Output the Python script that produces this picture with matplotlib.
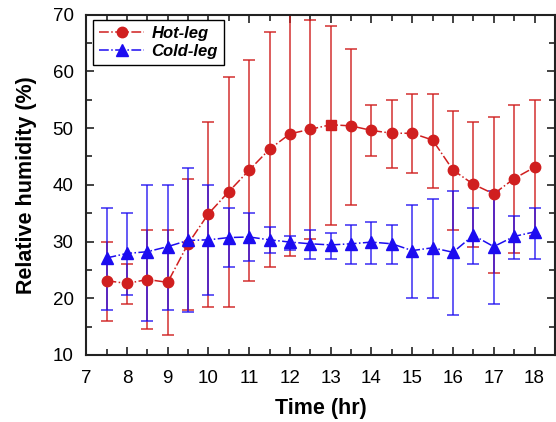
import matplotlib
matplotlib.use('Agg')
import matplotlib.pyplot as plt
from matplotlib.ticker import MultipleLocator

plt.rcParams['font.family'] = ['Liberation Sans', 'DejaVu Sans']

# time points (hr)
time = [7.5, 8, 8.5, 9, 9.5, 10, 10.5, 11, 11.5, 12, 12.5,
        13, 13.5, 14, 14.5, 15, 15.5, 16, 16.5, 17, 17.5, 18]

# hot-leg relative humidity (%) with error bar ends
hot_mean = [23.1, 22.6, 23.3, 22.8, 29.6, 34.9, 38.8, 42.6, 46.3, 49.0, 49.8,
            50.6, 50.4, 49.6, 49.1, 49.1, 47.9, 42.6, 40.1, 38.4, 41.1, 43.1]
hot_upper = [30, 26, 32, 32, 41, 51, 59, 62, 67, 70, 69,
             68, 64, 54, 55, 56, 56, 53, 51, 52, 54, 55]
hot_lower = [16, 19, 14.5, 13.5, 18, 18.5, 18.5, 23, 25.5, 27.5, 30.5,
             33, 36.5, 45, 43, 42, 39.5, 32, 29, 24.5, 28, 31]

# cold-leg relative humidity (%) with error bar ends
cold_mean = [27.1, 27.9, 28.2, 29.1, 30.2, 30.3, 30.7, 30.8, 30.3, 29.9, 29.6,
             29.4, 29.6, 29.9, 29.6, 28.4, 28.9, 28.1, 31.1, 29.1, 30.9, 31.7]
cold_upper = [36, 35, 40, 40, 43, 40, 36, 35, 32.5, 31, 32,
              31.5, 33, 33.5, 33, 36.5, 37.5, 39, 36, 39, 34.5, 36]
cold_lower = [18, 20.5, 16, 18, 17.5, 20.5, 25.5, 26.5, 28, 28.5, 27,
              27, 26, 26, 26, 20, 20, 17, 26, 19, 27, 27]

hot_color = '#d01f1f'
cold_color = '#1c0cf0'


def err(mean, upper, lower):
    return [[m - l for m, l in zip(mean, lower)],
            [u - m for m, u in zip(mean, upper)]]


fig = plt.figure(figsize=(5.56, 4.22), dpi=100)
ax = fig.add_axes([0.155, 0.159, 0.843, 0.806])

ax.errorbar(time, hot_mean, yerr=err(hot_mean, hot_upper, hot_lower),
            fmt='none', ecolor=hot_color, elinewidth=1.2, capsize=4,
            capthick=1.2, alpha=0.85, zorder=2)
ax.errorbar(time, cold_mean, yerr=err(cold_mean, cold_upper, cold_lower),
            fmt='none', ecolor=cold_color, elinewidth=1.2, capsize=4,
            capthick=1.2, alpha=0.8, zorder=2)

# one hot-leg point at 13 hr is drawn as a square in the original
sq = time.index(13)
circ = [i for i in range(len(time)) if i != sq]
ax.plot(time, hot_mean, color=hot_color, linestyle='-.', linewidth=1.1,
        marker='o', markersize=7.5, markevery=circ, label='Hot-leg', zorder=3)
ax.plot([time[sq]], [hot_mean[sq]], color=hot_color, linestyle='none',
        marker='s', markersize=6.5, zorder=3)
ax.plot(time, cold_mean, color=cold_color, linestyle='-.', linewidth=1.1,
        marker='^', markersize=8.5, label='Cold-leg', zorder=4)

ax.set_xlim(7, 18.5)
ax.set_ylim(10, 70)
ax.xaxis.set_major_locator(MultipleLocator(1))
ax.xaxis.set_minor_locator(MultipleLocator(0.5))
ax.yaxis.set_major_locator(MultipleLocator(10))
ax.yaxis.set_minor_locator(MultipleLocator(5))
ax.tick_params(which='both', direction='in', top=True, right=True,
               labelsize=13.5, width=1.2, color='#222222')
ax.tick_params(which='major', length=6)
ax.tick_params(which='minor', length=4)
ax.tick_params(axis='x', pad=11)
ax.tick_params(axis='y', pad=9)
for s in ax.spines.values():
    s.set_linewidth(1.5)
    s.set_color('#222222')

ax.set_xlabel('Time (hr)', fontsize=15.5, fontweight='bold', labelpad=8)
ax.set_ylabel('Relative humidity (%)', fontsize=15.5, fontweight='bold', labelpad=11)

leg = ax.legend(loc='upper left', bbox_to_anchor=(0.015, 0.985), fancybox=False,
                edgecolor='black', framealpha=1, handlelength=2.7,
                handletextpad=0.45, labelspacing=0.2, borderpad=0.35,
                borderaxespad=0.0,
                prop={'size': 12, 'weight': 'bold', 'style': 'italic'})
leg.get_frame().set_linewidth(1.0)

fig.savefig('out.png', dpi=100)
